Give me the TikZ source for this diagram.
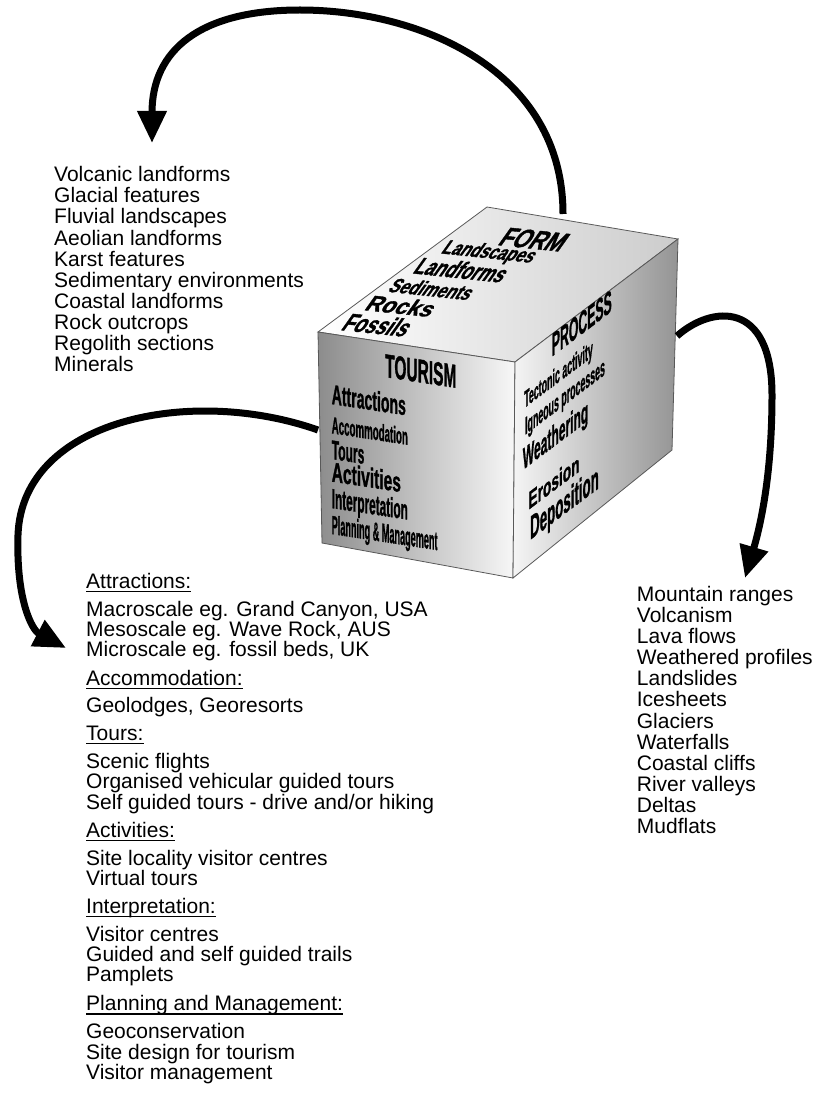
\documentclass[tikz,border=0pt]{standalone}
\usepackage{fontspec}
\setmainfont{Liberation Sans}
\newfontfamily\facefont{Liberation Sans}[UprightFont={* Bold}, FakeBold=1.5]
\usepackage{graphicx}
\usetikzlibrary{arrows.meta}

\newcommand{\listfont}{\fontsize{21}{21}\selectfont}
\newcommand{\squeeze}[3]{\resizebox{#1pt}{#2pt}{\facefont #3}}

\tikzset{
  item/.style={anchor=base west, inner sep=0pt, font=\listfont},
  facetext/.style={anchor=base west, inner sep=0pt, transform shape},
  face/.style={draw=black!65, line width=0.8pt},
  bigarrow/.style={line width=7pt, -{Triangle[length=32pt,width=28pt]}},
  uline/.style={line width=1.3pt},
}

\begin{document}
\begin{tikzpicture}[x=1pt,y=-1pt]
\useasboundingbox (0,0) rectangle (823,1099);

\coordinate (L) at (318,332);
\coordinate (B) at (487,207);
\coordinate (R) at (678,239);
\coordinate (F) at (515,362);
\coordinate (BL) at (322,543);
\coordinate (BF) at (513,578);
\coordinate (BR) at (672,450);

\draw[face, left color=white, right color=black!20] (L) -- (B) -- (R) -- (F) -- cycle;
\draw[face, left color=black!45, right color=black!3] (L) -- (F) -- (BF) -- (BL) -- cycle;
\draw[face, left color=black!4, right color=black!42] (F) -- (R) -- (BR) -- (BF) -- cycle;

\begin{scope}[cm={0.9945,-0.1045,0.58,0.815,(L)}, x=1pt, y=1pt]
  \node[facetext] (form) at (109.2,120.8) {\squeeze{63}{21.5}{FORM}};
  \node[facetext] (landscapes) at (61.8,104.5) {\squeeze{91}{17}{Landscapes}};
  \node[facetext] (landforms) at (48.6,78.3) {\squeeze{89}{20}{Landforms}};
  \node[facetext] (sediments) at (37.4,54.3) {\squeeze{81}{17}{Sediments}};
  \node[facetext] (rocks) at (27.7,30.5) {\squeeze{66}{18.5}{Rocks}};
  \node[facetext] (fossils) at (19.2,4.9) {\squeeze{64}{21}{Fossils}};
\end{scope}

\begin{scope}[cm={0.9885,-0.1505,0,1,(L)}, x=1pt, y=1pt]
  \node[facetext] (tourism) at (67.8,-34.8) {\squeeze{72}{23}{TOURISM}};
  \node[facetext] (attr) at (13.7,-69.9) {\squeeze{75}{20}{Attractions}};
  \node[facetext] (accom) at (13.7,-99.2) {\squeeze{77}{17}{Accommodation}};
  \node[facetext] (tours) at (13.7,-124.9) {\squeeze{33}{18.5}{Tours}};
  \node[facetext] (activ) at (13.7,-147.4) {\squeeze{70}{20}{Activities}};
  \node[facetext] (interp) at (13.7,-173.9) {\squeeze{77}{20}{Interpretation}};
  \node[facetext] (plan) at (13.7,-199.9) {\squeeze{107}{19}{Planning \& Management}};
\end{scope}

\begin{scope}[cm={0.798,0.602,0,1,(F)}, x=1pt, y=1pt]
  \node[facetext] (process) at (46,-22.4) {\squeeze{75}{22.5}{PROCESS}};
  \node[facetext] (tecton) at (11.3,-53.1) {\squeeze{86}{17}{Tectonic activity}};
  \node[facetext] (igneous) at (12.5,-80.5) {\squeeze{100}{17}{Igneous processes}};
  \node[facetext] (weather) at (9.6,-113.8) {\squeeze{82}{22}{Weathering}};
  \node[facetext] (erosion) at (16.7,-158) {\squeeze{64}{18}{Erosion}};
  \node[facetext] (depos) at (18.8,-189.3) {\squeeze{86}{24}{Deposition}};
\end{scope}

\foreach \t [count=\i from 0] in {Volcanic landforms, Glacial features, Fluvial landscapes,
    Aeolian landforms, Karst features, Sedimentary environments, Coastal landforms,
    Rock outcrops, Regolith sections, Minerals}
  \node[item] (formlist\i) at (54,{181.7+21.1*\i}) {\t};

\foreach \t [count=\i from 0] in {Mountain ranges, Volcanism, Lava flows, Weathered profiles,
    Landslides, Icesheets, Glaciers, Waterfalls, Coastal cliffs, River valleys, Deltas, Mudflats}
  \node[item] (proclist\i) at (636.7,{601.7+21.05*\i}) {\t};

\foreach \y/\t/\n in {588.3/Attractions:/headA, 685/Accommodation:/headB, 740/Tours:/headC,
    837.3/Activities:/headD, 913.3/Interpretation:/headE, 1010.7/Planning and Management:/headF} {
  \node[item] (\n) at (86,\y) {\t};
  \draw[uline] ([yshift=-3.4pt]\n.base west) -- ([yshift=-3.4pt]\n.base east);
}

\foreach \y/\t [count=\i] in {616/{Macroscale eg. Grand Canyon, USA}, 636.7/{Mesoscale eg. Wave Rock, AUS},
    656.7/{Microscale eg. fossil beds, UK}, 712.7/{Geolodges, Georesorts}, 768.3/{Scenic flights},
    788.3/{Organised vehicular guided tours}, 809.3/{Self guided tours - drive and/or hiking},
    865/{Site locality visitor centres}, 885/{Virtual tours}, 941/{Visitor centres},
    961.7/{Guided and self guided trails}, 981.7/{Pamplets}, 1038.3/{Geoconservation},
    1059/{Site design for tourism}, 1079/{Visitor management}}
  \node[item] (tourlist\i) at (86,\y) {\t};

\coordinate (formOut) at (563,214);
\coordinate (formIn) at (152,143);
\coordinate (tourOut) at (318,430);
\coordinate (tourIn) at (66,648);
\coordinate (procOut) at (677,336);
\coordinate (procIn) at (745,578);

\draw[bigarrow] (formOut) .. controls (563,70) and (420,10) .. (300,10) .. controls (200,10) and (152,50) .. (formIn);
\draw[bigarrow] (tourOut) .. controls (190,385) and (22,420) .. (18,535) .. controls (16,600) and (32,630) .. (tourIn);
\draw[bigarrow] (procOut) .. controls (712,305) and (772,300) .. (772,395) .. controls (772,470) and (762,520) .. (procIn);
\end{tikzpicture}
\end{document}
